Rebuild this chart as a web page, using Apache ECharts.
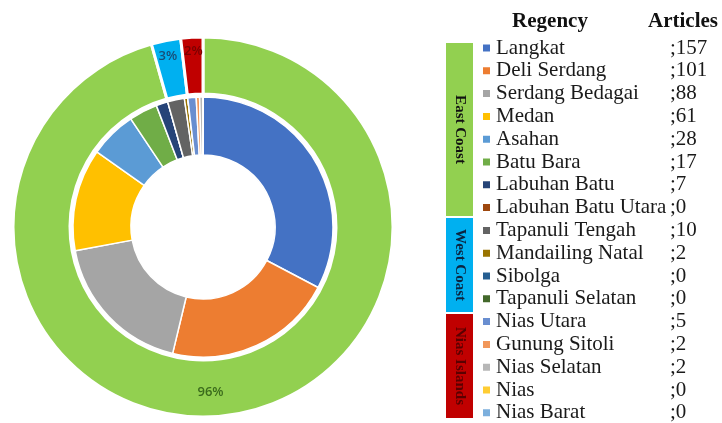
<!DOCTYPE html>
<html>
<head>
<meta charset="utf-8">
<script src="https://cdn.jsdelivr.net/npm/echarts@6/dist/echarts.min.js"></script>
<style>html,body{margin:0;padding:0;background:#fff;}#c{width:722px;height:423px;}</style>
</head>
<body>
<div id="c"></div>
<script>
const regencies = ['Langkat','Deli Serdang','Serdang Bedagai','Medan','Asahan','Batu Bara','Labuhan Batu','Labuhan Batu Utara','Tapanuli Tengah','Mandailing Natal','Sibolga','Tapanuli Selatan','Nias Utara','Gunung Sitoli','Nias Selatan','Nias','Nias Barat'];
const articles = [157,101,88,61,28,17,7,0,10,2,0,0,5,2,2,0,0];
const regencyColors = ['#4472C4','#ED7D31','#A5A5A5','#FFC000','#5B9BD5','#70AD47','#264478','#9E480E','#636363','#997300','#255E91','#43682B','#698ED0','#F1975A','#B7B7B7','#FFCD33','#7CAFDD'];
const regions = ['East Coast','West Coast','Nias Islands'];
const regionCounts = [8,4,5];
const regionColors = ['#92D050','#00B0F0','#C00000'];
const regionLabelColors = ['#3B6B1C','#174E78','#7A0000'];
const regionTextColors = ['#111111','#0B2440','#5A0000'];

const regionValues = [];
let k = 0;
regionCounts.forEach(n => { let s = 0; for (let i = 0; i < n; i++) s += articles[k++]; regionValues.push(s); });
const total = articles.reduce((a,b)=>a+b,0);

const chart = echarts.init(document.getElementById('c'));
const serif = '"Liberation Serif","Times New Roman",serif';

const graphics = [];
const rowTop = 37.5, rowH = 22.8;
const barEdges = [[43,216],[218,312],[314,418]];
regions.forEach((r, i) => {
  const [y0,y1] = barEdges[i];
  graphics.push({type:'rect', shape:{x:446, y:y0, width:27, height:y1-y0}, style:{fill:regionColors[i]}});
  graphics.push({type:'text', x:460, y:(y0+y1)/2, rotation:-Math.PI/2,
    style:{text:r, font:'bold 15px ' + serif, fill:regionTextColors[i], align:'center', verticalAlign:'middle', textAlign:'center', textVerticalAlign:'middle'}});
});
graphics.push({type:'text', x:550, y:22, style:{text:'Regency', font:'bold 21px ' + serif, fill:'#111', align:'center', verticalAlign:'middle', textAlign:'center', textVerticalAlign:'middle'}});
graphics.push({type:'text', x:683, y:22, style:{text:'Articles', font:'bold 21px ' + serif, fill:'#111', align:'center', verticalAlign:'middle', textAlign:'center', textVerticalAlign:'middle'}});

const labelShift = [[-15,2],[-3,-9],[0,-11]];

const option = {
  animation:false,
  backgroundColor:'#fff',
  legend:{
    data: regencies,
    orient:'vertical',
    left:481, top:rowTop, height:400, padding:0,
    itemWidth:9, itemHeight:9, itemGap:rowH-21,
    icon:'rect',
    formatter: name => `{n|${name}}{v|;${articles[regencies.indexOf(name)]}}`,
    textStyle:{
      fontFamily:serif, fontSize:21, color:'#1a1a1a', lineHeight:21,
      rich:{
        n:{width:174, fontFamily:serif, fontSize:21, color:'#1a1a1a', lineHeight:21},
        v:{fontFamily:serif, fontSize:21, color:'#1a1a1a', lineHeight:21}
      }
    }
  },
  graphic: graphics,
  series:[
    {
      type:'pie', name:'Regency', center:[203,227], radius:[72,130],
      startAngle:90, clockwise:true, avoidLabelOverlap:false,
      label:{show:false}, labelLine:{show:false},
      itemStyle:{borderColor:'#fff', borderWidth:1.5},
      emphasis:{disabled:true},
      data: regencies.map((n,i)=>({name:n, value:articles[i], itemStyle:{color:regencyColors[i]}}))
    },
    {
      type:'pie', name:'Region', center:[203,227], radius:[133,190],
      startAngle:90, clockwise:true, avoidLabelOverlap:false,
      itemStyle:{borderColor:'#fff', borderWidth:3},
      emphasis:{disabled:true},
      labelLine:{show:false},
      labelLayout: p => ({dx: labelShift[p.dataIndex][0], dy: labelShift[p.dataIndex][1]}),
      data: regions.map((n,i)=>({name:n, value:regionValues[i],
        itemStyle:{color:regionColors[i]},
        label:{show:true, position:'inside', color:regionLabelColors[i], fontSize:13,
          fontFamily:'"Open Sans","Noto Sans",sans-serif', fontWeight:600,
          formatter: p => Math.round(p.value/total*100) + '%'}
      }))
    }
  ]
};
chart.setOption(option);
</script>
</body>
</html>
